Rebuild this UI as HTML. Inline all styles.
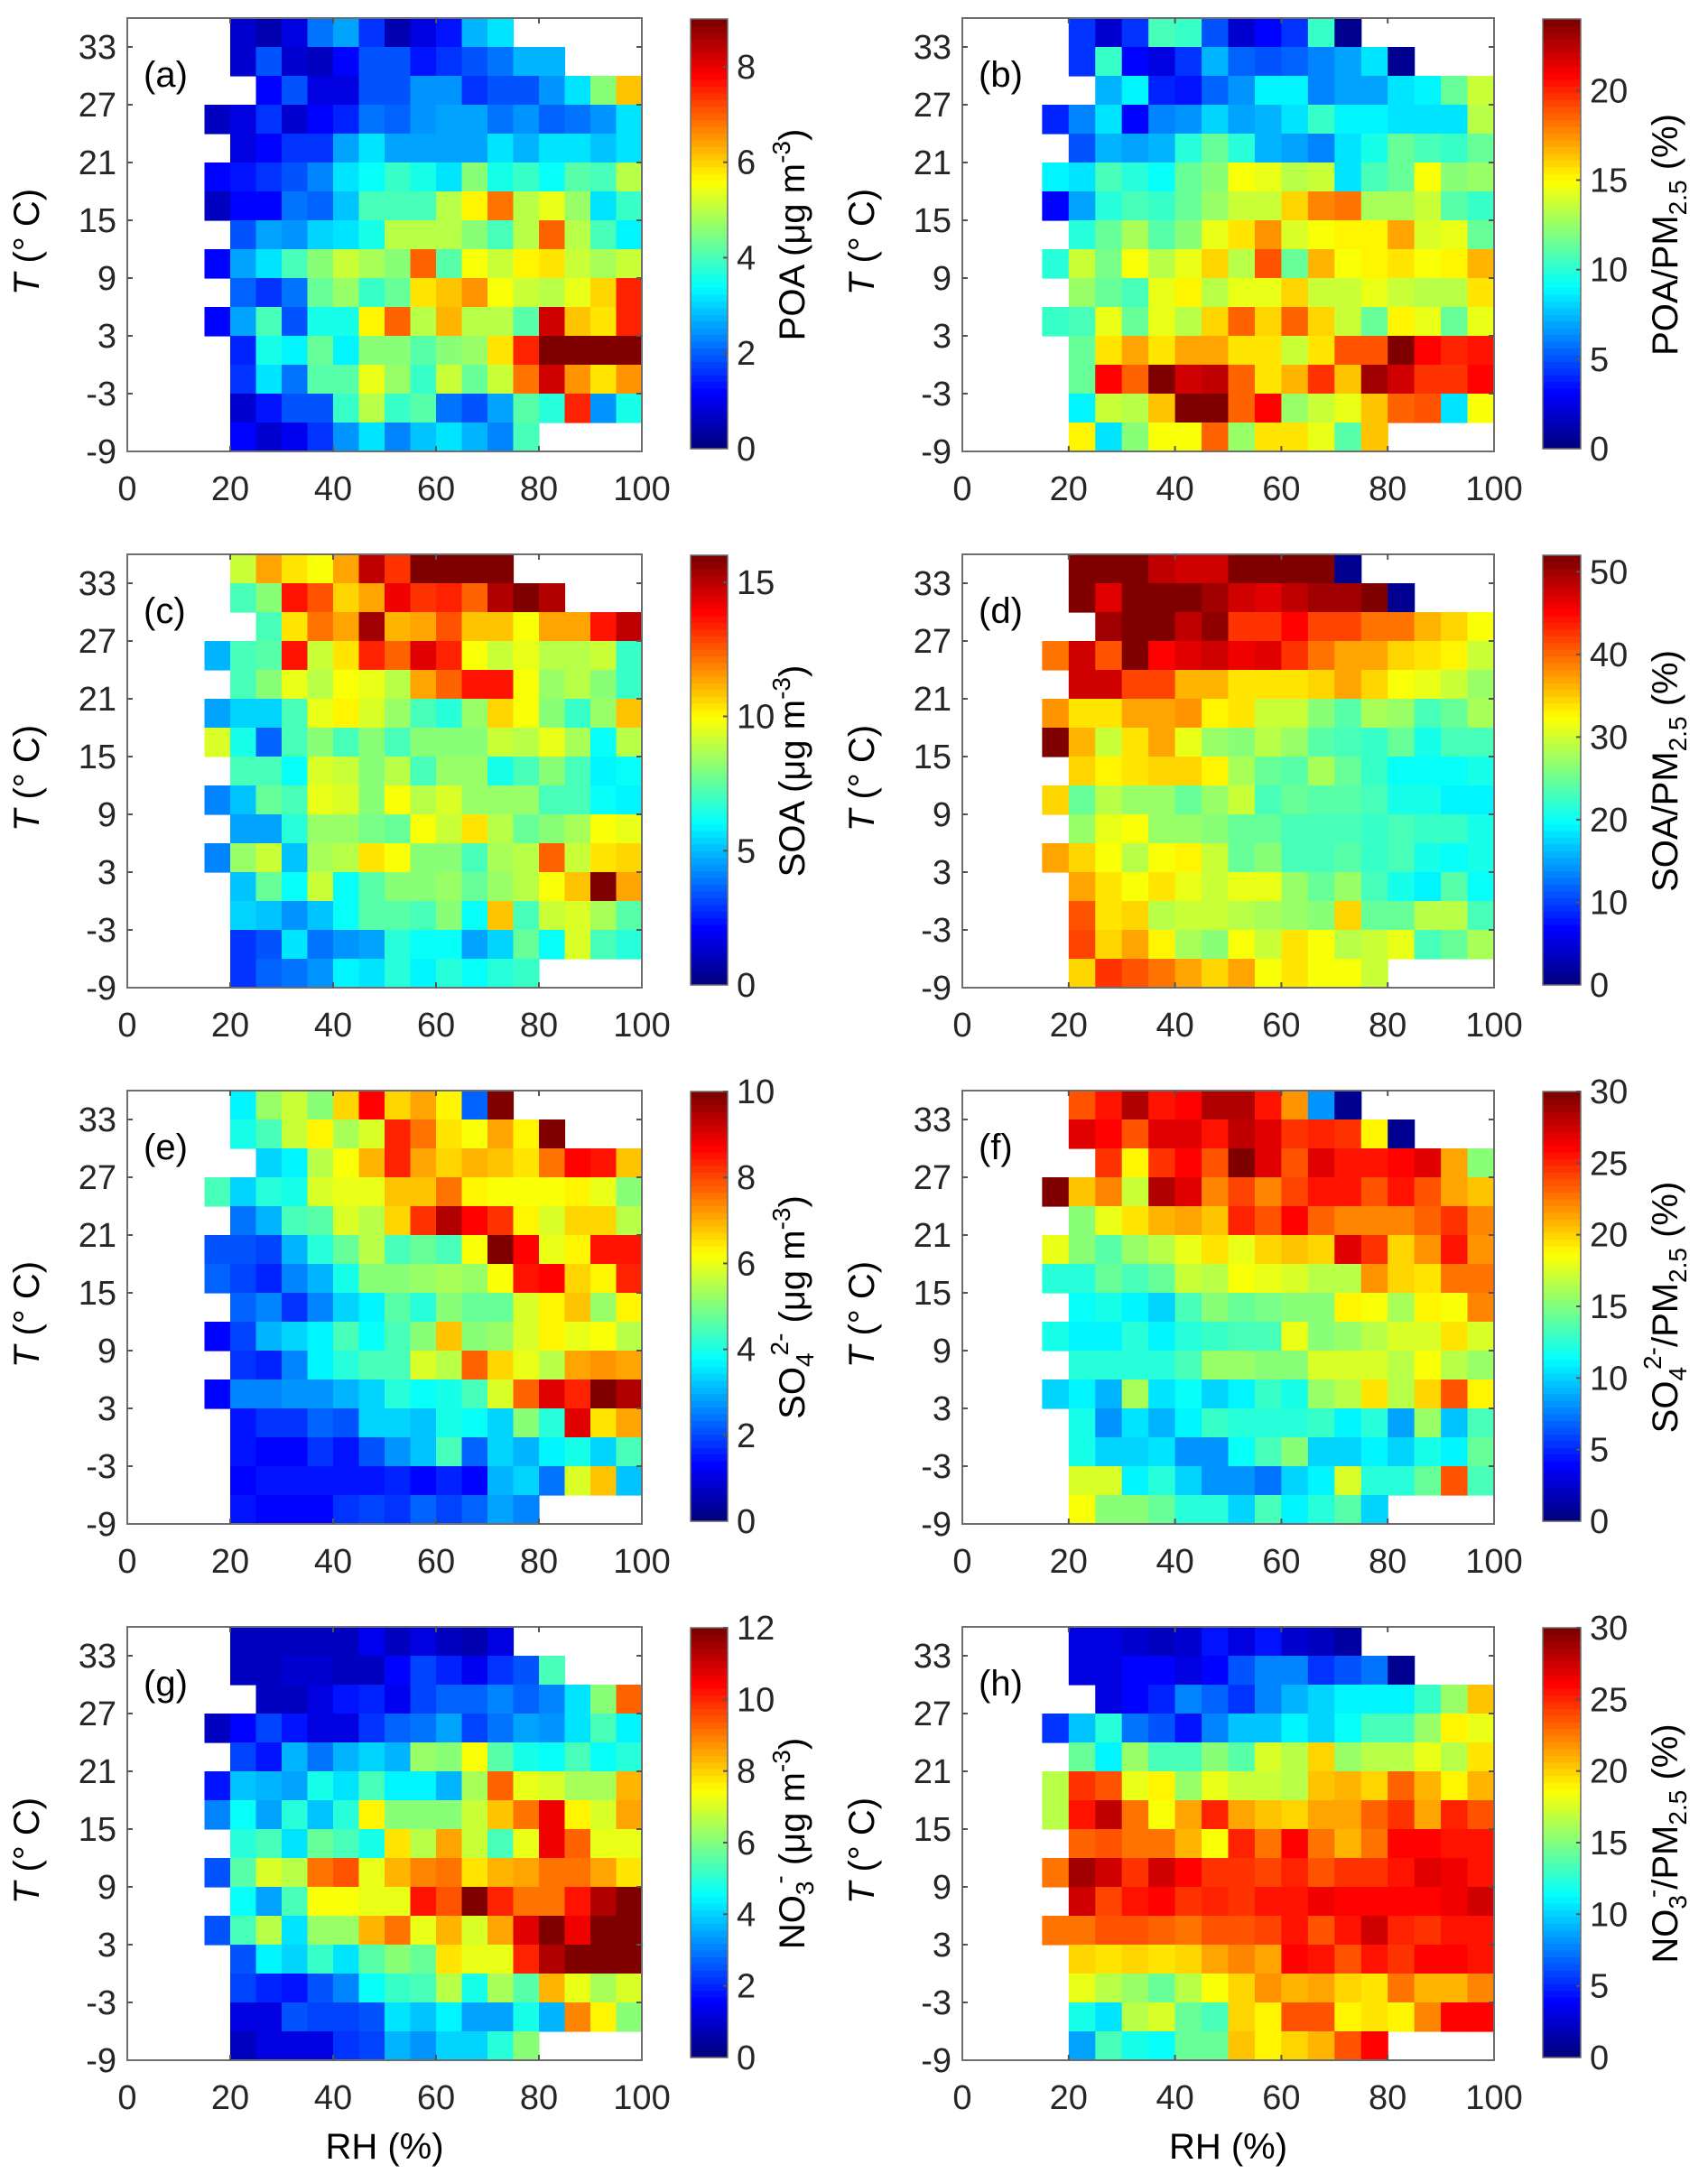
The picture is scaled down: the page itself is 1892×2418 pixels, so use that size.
<!DOCTYPE html>
<html><head><meta charset="utf-8"><title>RH-T heatmaps</title>
<style>
html,body{margin:0;padding:0;background:#fff;}
svg{display:block;font-family:"Liberation Sans",Arial,sans-serif;}
</style></head>
<body>
<svg id="fig" width="1892" height="2418" viewBox="0 0 1892 2418" xmlns="http://www.w3.org/2000/svg"></svg>
<script>
const n = null;
// RH bin starts (%) and T bin starts (°C, top row first)
const rhBins = [15,20,25,30,35,40,45,50,55,60,65,70,75,80,85,90,95];
const tBins = [33,30,27,24,21,18,15,12,9,6,3,0,-3,-6,-9];
const xTicks = [0,20,40,60,80,100];
const yTicks = [33,27,21,15,9,3,-3,-9];

const poaData = [
[n,0.7,0.4,0.9,2.2,2.5,1.6,0.4,0.9,1.3,2.7,3.1,n,n,n,n,n],
[n,0.7,1.8,0.7,0.5,1.1,1.8,1.8,1.3,1.5,1.8,2.2,2.7,2.7,n,n,n],
[n,n,1.2,1.8,0.9,0.9,1.8,1.8,2.4,2.4,1.5,1.8,1.8,2.4,3.1,4.5,6.1],
[0.5,0.9,1.6,0.7,1.1,1.4,2.2,2.0,2.4,2.6,2.6,2.2,2.4,2.0,2.1,2.4,3.1],
[n,0.9,1.1,1.6,1.6,2.6,3.1,2.6,2.6,2.5,2.6,3.1,2.7,3.1,3.1,2.8,3.1],
[1.1,1.3,1.6,1.8,2.3,3.1,3.4,3.8,3.6,3.1,4.5,3.6,3.8,3.4,4.2,4.0,5.0],
[0.5,1.1,1.1,2.2,2.0,2.8,4.0,4.0,4.0,5.0,5.7,6.8,5.0,5.4,4.7,3.1,3.8],
[n,1.8,2.6,2.4,3.0,3.1,3.6,5.0,5.0,5.0,4.5,4.0,5.0,7.0,5.0,4.0,3.3],
[1.2,2.6,3.1,4.0,4.5,5.2,4.8,4.5,7.0,4.1,5.6,5.1,5.7,5.8,5.1,4.9,5.2],
[n,2.0,1.6,2.2,4.3,4.7,3.8,4.3,5.9,6.2,6.5,5.5,5.1,5.0,5.4,6.0,7.6],
[1.2,2.6,4.0,1.8,3.6,3.6,5.7,7.0,5.0,6.3,5.0,5.0,4.2,8.3,6.1,5.9,7.6],
[n,1.4,3.6,3.3,4.3,3.3,4.5,4.5,4.2,4.5,4.7,5.8,7.6,9,9,9,9],
[n,1.5,3.1,2.2,4.1,4.2,5.4,4.7,3.8,5.2,4.3,5.1,6.8,8.3,6.5,5.9,6.6],
[n,0.7,1.3,1.8,1.8,3.8,5.0,3.8,4.1,2.2,1.9,2.5,4.1,3.7,7.5,2.4,3.6],
[n,1.2,0.7,1.0,1.6,2.4,3.1,2.3,2.8,3.1,2.7,2.3,4.0,n,n,n,n]];

const poaFracData = [
[n,4.3,1.9,4.1,10.6,10.1,4.8,1.9,2.9,4.3,10.1,0.5,n,n,n,n,n],
[n,4.3,10.3,3.1,2.4,4.3,7.2,5.3,4.8,5.3,6.2,6.7,8.2,0.5,n,n,n],
[n,n,7.2,8.9,3.8,3.4,5.5,6.5,8.9,8.9,6.2,6.7,7.0,8.2,8.9,11.5,13.9],
[3.8,6.0,8.2,3.1,6.0,6.5,7.9,7.0,7.4,8.2,10.1,8.9,8.9,8.2,8.2,8.4,13.2],
[n,4.8,7.2,6.7,7.2,9.8,11.5,9.8,7.2,6.7,6.0,8.4,9.6,11.3,10.6,10.1,11.5],
[8.6,8.2,10.6,9.8,9.1,11.5,12,14.9,14.4,13.4,13.9,8.2,10.6,11.3,14.9,12,12.5],
[2.9,6.7,9.8,10.8,10.3,11.3,12.7,13.9,13.7,16.1,17.8,18.2,13,13,13.9,11,10.1],
[n,9.8,11.5,13,11,12,14.6,15.8,17.5,14.2,14.9,15.4,15.4,17.3,14.2,14.4,11.3],
[9.8,13.7,11.8,14.9,13.4,14.4,16.1,13.4,19,11.5,16.6,14.9,15.4,15.8,14.9,15.1,16.6],
[n,12.5,11.3,10.8,14.4,15.1,13.2,14.4,14.6,16.1,13.7,13.9,14.4,13.7,13.4,13.4,15.8],
[10.1,10.8,14.4,11.3,14.4,13.2,16.1,18.5,16.1,18.5,16.1,13.7,11.3,15.1,14.4,11.5,14.4],
[n,11.3,15.8,17.3,15.8,17.3,17.3,15.8,15.8,13.9,15.8,19.2,19,24,21.1,20.2,20.6],
[n,11.5,21.1,18.7,24,22.1,22.3,18.7,15.6,16.8,19.9,16.3,23.3,22.1,19.9,19.9,21.1],
[n,8.9,13.9,13.4,16.3,24,24,18.7,21.1,12.5,13.7,14.4,16.3,18.7,19.2,8.2,14.9],
[n,15.1,8.4,12,14.9,14.9,18.7,12.5,15.6,15.8,14.4,11,16.3,n,n,n,n]];

const soaData = [
[n,9.1,11.5,10.4,9.9,11.5,14.9,13.1,16,16,16,16,n,n,n,n,n],
[n,7.2,8,13.6,12.8,10.6,11.5,14.1,13.1,13.4,12.5,15.2,16,15.2,n,n,n],
[n,n,7.2,10.4,12.3,11.5,15.5,11.2,11.5,12.8,11,11,9.9,11.5,11.5,13.6,14.9],
[4.8,7.2,7.4,13.8,9.1,10.4,13.4,12.5,14.4,13.4,9.9,9.1,9.6,8.8,9,9.1,6.9],
[n,7.2,8,9.6,9,9.9,9.6,9,11.5,12.5,13.6,13.8,9.9,8.5,8.8,8,6.9],
[4.5,5.4,5.4,7.2,9.6,10.1,9.3,8.5,7,6.7,8.5,10.6,9.9,8,6.9,8.5,10.9],
[9.3,6.4,3.5,7,8,7.2,8,7,8,8,8,9.1,8.8,9.6,8.6,6.2,8.8],
[n,7,7,6.1,9.3,9.1,8,9,7.2,8.3,8.3,6.4,7,8,7,5.9,6.2],
[4,5.1,7.7,7.2,9.6,9.4,8,9.9,9,9.4,8.3,8.3,8.5,7.2,7,6.1,5.9],
[n,4.5,4.6,6.7,8.3,8.3,7.8,7.7,9.9,9.1,10.4,9,7.5,8,8.6,9.9,9.6],
[4,8.5,9.1,5.1,8.6,9,10.4,9.9,8,8,7.2,8.6,8.8,12.5,9.1,10.4,10.7],
[n,5.1,7.5,6.1,9.1,6.1,7.4,8.2,8.2,8.5,7.5,8.3,9,9.9,10.9,16,11.5],
[n,5.4,5,4.2,5,6.1,7.4,7.4,7.2,8,6.1,10.9,7.2,9.1,9.4,8.6,7.4],
[n,2.9,3.2,5.6,3.8,4.2,4.6,6.6,6.1,6.1,4.6,5.4,7.5,6.1,9.4,7.2,6.7],
[n,2.7,3.5,3.8,4.2,5.9,5.6,6.7,5.8,6.6,6.1,6.6,6.9,n,n,n,n]];

const soaFracData = [
[n,52,52,52,49,48,48,52,52,52,52,1,n,n,n,n,n],
[n,52,47,52,52,52,50,48,47,49,50,50,52,1,n,n,n],
[n,n,50,52,52,49,51,43,43,45,42,42,40,40,36,35,32],
[40,48,41,52,45,47,48,46,47,43,40,37,37,35,34,33,30],
[n,48,48,42,42,36,36,34,34,34,35,37,35,32,31,30,27],
[38,34,34,37,37,38,33,34,30,30,26,24,28,27,23,25,28],
[52,36,30,34,37,31,27,26,29,27,24,23,22,25,21,23,23],
[n,35,33,34,35,35,33,28,25,24,28,25,22,20,20,20,21],
[35,25,29,27,27,25,27,30,23,25,24,24,23,21,21,19,19],
[n,27,31,32,27,27,26,25,25,23,23,23,22,23,22,22,21],
[37,35,32,29,32,33,30,25,26,23,23,24,22,23,21,20,21],
[n,37,34,32,34,31,30,31,31,27,25,27,23,21,19,24,20],
[n,41,34,35,29,30,30,29,28,27,26,35,25,25,29,29,23],
[n,42,35,37,33,28,26,32,30,34,32,29,30,31,23,25,28],
[n,35,43,41,40,37,35,37,32,34,32,32,30,n,n,n,n]];

const so4Data = [
[n,3.7,5.2,5.7,5,6.6,8.7,6.6,7.2,6.3,2.2,10,n,n,n,n,n],
[n,4,4.4,5.7,6.3,5.4,5.8,8.4,7.6,6.5,6.2,7.2,6.4,10,n,n,n],
[n,n,3.4,3.7,5.5,6.2,7,8.4,7.2,6.6,7,6.8,6.5,7.6,8.8,8.6,6.8],
[4.4,3.3,4.2,4,5.8,6,6.1,6.8,6.9,7.6,6.4,6.2,6.2,6.2,6.3,6,5],
[n,2.4,3,4.4,4.6,5.8,5.5,6.7,8.2,9.5,8.8,8.2,6.4,5.8,6.7,6.6,5.5],
[2,2,1.9,3,4.2,4.7,5.5,4.4,4.8,4.5,6.2,10,8.8,6,6.4,8.5,8.6],
[2.2,1.9,1.6,2.6,3,4,5,5,5.2,5.4,5.3,6.2,8.5,8.8,6.7,6.3,8.4],
[n,2.2,2.5,1.8,2.5,3.3,3.7,4.6,4.2,5,4.7,4.7,5.9,6.4,6.8,5.2,6.4],
[1.3,1.9,3,3.3,3.7,4.5,3.8,4.4,5,6.8,5,5.3,5.8,6.3,6.1,6.2,5.6],
[n,1.8,1.6,2.5,3.7,4.1,4.4,4.5,5.8,5.6,7.7,6.6,6,5.6,7.1,7.3,7.1],
[1.3,2.6,2.6,2.7,2.7,3,3.4,4.2,3.8,4,4.5,5.8,7.7,9,8.4,10,9.5],
[n,1.5,1.8,1.7,2.3,2,3.3,3.3,3.2,4,3.8,3.4,5,4.2,9,6.5,7.2],
[n,1.5,1.3,1.2,1.7,1.5,2,2.7,3.1,4.4,2.2,3.3,3,3.7,4,3.3,4.4],
[n,1.2,1.5,1.5,1.5,1.4,1.4,1.6,1.3,1.6,1.3,3,3.3,2.4,5.8,6.8,3.2],
[n,1.5,1.2,1.3,1.3,1.8,1.9,1.8,2.3,1.9,2.2,2.8,2.5,n,n,n,n]];

const so4FracData = [
[n,24,25.8,28.8,25.8,26.4,28.8,28.8,25.5,21.9,8.1,0.6,n,n,n,n,n],
[n,27,26.4,24,27,27.3,25.5,28.2,27.3,24.6,25.2,24.6,18.9,0.6,n,n,n],
[n,n,24.9,18.9,24.9,26.4,23.7,30,27.3,23.7,27.3,25.5,25.8,26.4,27.3,21.6,15],
[30,20.7,22.2,17.1,28.8,27.3,22.2,24.3,22.2,24.3,25.5,25.5,24,25.5,24,21.6,20.7],
[n,15,18,19.5,21,21.6,20.7,25.2,24,26.1,23.4,22.2,22.5,22.5,23.4,24.6,22.5],
[18,15,13.8,15.9,16.8,18,19.5,18,20.1,20.4,19.8,27.3,24.9,20.1,21.9,25.5,21.9],
[12.3,12.3,14.4,13.2,14.4,17.1,16.5,18.6,18,17.7,16.5,16.5,21.9,20.1,19.5,22.8,22.8],
[n,11.4,12,11.1,9.9,13.2,15,14.1,14.7,15.3,15.3,19.2,18.6,16.2,19.2,18.6,22.5],
[12,11.1,11.1,12.3,10.8,12.6,12.9,13.5,13.5,18,15,15.6,16.5,17.4,17.4,19.5,17.4],
[n,12.6,12.6,12.3,12.3,13.2,15.6,15.6,15,15,17.4,17.4,17.4,16.8,18.6,16.5,15.6],
[10.2,10.8,9,16.2,10.5,11.4,9.9,11.1,12.9,12,15.6,16.5,19.5,16.8,19.8,24,19.2],
[n,11.7,8.1,10.5,9,11.1,12.9,12.3,12.3,12.3,12.9,11.1,12.6,8.7,15.6,9.6,13.2],
[n,12,9.9,9.9,10.5,8.1,8.1,11.4,13.2,15,9.9,10.2,10.8,10.2,11.7,11.1,14.4],
[n,17.4,17.4,10.8,12.6,10.2,8.1,8.1,7.2,10.2,10.8,17.4,12.6,12.6,14.4,24,13.2],
[n,18.6,15,15,14.4,12.6,12.6,9.9,13.2,11.1,12.6,13.8,10.2,n,n,n,n]];

const no3Data = [
[n,0.7,0.8,0.8,0.7,0.8,1.4,0.8,1.2,0.8,0.5,1.1,n,n,n,n,n],
[n,0.7,0.7,1,1,0.7,0.8,1.6,2.2,1.9,1.4,2,2.4,5.3,n,n,n],
[n,n,0.7,0.8,1.1,1.7,1.9,1.4,2.2,2.6,2.6,3,2.6,3,4.1,6,9.4],
[0.7,1.6,2.3,1.7,1.2,1.1,2,2.6,2.9,3.5,2.3,2.8,3.5,3.2,4.1,5.3,4.4],
[n,2.3,1.8,3.6,2.8,3.6,4,3.7,6.2,6,7.4,5.6,4.8,4.6,5.3,4.6,5],
[1.8,3.8,3.7,3.4,4.8,4.1,5.3,4.4,4.3,3.7,6.4,9.4,7.2,7,6.5,6.5,8.3],
[3,4.6,3.4,4.9,3.8,5,7.6,6,6,6,6.8,8.2,9.2,10.6,7.6,7,8.6],
[n,5,5.4,4.1,5.8,5.4,4.8,7.9,6.6,8.6,6.8,5.3,7.2,10.6,9.4,7.2,7.2],
[2.4,5.5,7,6.6,9.2,9.6,7.2,8.4,8.9,9.1,7.9,8.3,8.6,9.1,9.2,8.6,7.9],
[n,4.6,3.5,5.3,7.4,7.4,7.2,7.2,10.2,9.6,12,10.1,9.1,9.1,10.2,11.5,12],
[2.4,5.4,6.7,4.2,6.2,6.2,8.4,9.1,7.2,8.4,7,8.6,10.8,12,10.6,12,12],
[n,2.4,4.4,4,5.2,4.1,5.6,6,5.8,7.9,7.2,7.2,10.1,11.5,12,12,12],
[n,2.2,1.9,1.8,2.4,3.1,4.6,5.2,5.4,6.7,4.8,6.4,5.6,8.4,7.2,6.5,7],
[n,1.1,1.1,2.4,2.2,2.2,2.4,4.1,3.8,4.4,3.5,3.4,4.8,3.7,8.9,7.6,6],
[n,0.8,1.2,1.2,1.2,2,2.3,3.7,3.2,4,4,4.9,6,n,n,n,n]];

const no3FracData = [
[n,2.7,3,2.4,2.1,2.4,4.2,3,4.2,2.4,1.8,0.9,n,n,n,n,n],
[n,3,3,3.6,3.9,3,3.6,6,7.5,7.5,5.4,6,7.2,0.6,n,n,n],
[n,n,3,3.6,4.8,7.5,6.6,5.4,7.5,9,9.9,11.1,11.1,10.8,12.9,15.6,20.4],
[5.1,9.6,12.6,7.2,6.3,4.2,7.5,9.6,9.6,11.1,10.2,11.4,13.5,13.5,15.6,18.9,18],
[n,14.4,11.1,15.9,13.2,13.5,15,13.8,17.4,16.5,19.8,15.6,16.5,16.5,18,16.8,19.5],
[16.5,24.9,24,18,19.2,15.9,18,17.1,17.1,16.8,20.4,21,20.1,23.4,21,19.2,21],
[16.5,25.8,27.9,22.8,18.6,21.3,25.2,21.3,20.7,20.1,21.3,21.6,23.4,24.6,21.6,25.2,24],
[n,23.4,24,22.8,22.8,21,18.6,25.2,22.8,26.1,22.8,21,22.8,26.1,26.4,25.8,25.5],
[22.8,29.1,27.6,24.9,27.6,26.4,24.6,24.6,24.3,25.2,24,24.6,24.6,25.8,27,26.7,25.5],
[n,27.6,24.3,25.5,26.4,24.6,25.2,24.6,25.8,25.5,26.7,26.1,26.4,26.4,26.1,26.7,27.6],
[22.8,22.8,23.7,23.7,23.1,22.8,24,24,24.3,25.5,24,25.5,27.6,25.2,24.6,25.8,25.5],
[n,20.1,19.5,20.1,19.5,20.1,21.6,22.2,21.6,26.4,25.5,24,25.8,24.9,26.4,26.4,25.5],
[n,18,16.5,15.6,14.4,16.5,18.6,20.1,21.9,21,21.3,20.1,19.5,22.8,21,21,22.2],
[n,12,10.5,16.8,17.4,14.4,13.5,20.1,18.9,24,24,19.2,19.5,18.9,22.5,26.4,26.4],
[n,8.7,13.2,12,11.4,14.4,14.4,20.4,18.9,20.1,21,24,26.4,n,n,n,n]];

// colorbar limits and tick labels
const cbMax = [9,24,16,52,10,30,12,30];
const cbTicksA = [0,2,4,6,8];
const cbTicksB = [0,5,10,15,20];
const cbTicksC = [0,5,10,15];
const cbTicksD = [0,10,20,30,40,50];
const cbTicksE = [0,2,4,6,8,10];
const cbTicksF = [0,5,10,15,20,25,30];
const cbTicksG = [0,2,4,6,8,10,12];
const cbTicksH = [0,5,10,15,20,25,30];
const panelLetters = ['(a)','(b)','(c)','(d)','(e)','(f)','(g)','(h)'];

const panels = [
 {data:poaData, ticks:cbTicksA, name:'poa', label:[['POA (μg m',0],['-3',-1],[')',0]]},
 {data:poaFracData, ticks:cbTicksB, name:'poa-fraction', label:[['POA/PM',0],['2.5',1],[' (%)',0]]},
 {data:soaData, ticks:cbTicksC, name:'soa', label:[['SOA (μg m',0],['-3',-1],[')',0]]},
 {data:soaFracData, ticks:cbTicksD, name:'soa-fraction', label:[['SOA/PM',0],['2.5',1],[' (%)',0]]},
 {data:so4Data, ticks:cbTicksE, name:'sulfate', label:[['SO',0],['4',1],['2-',-2],[' (μg m',0],['-3',-1],[')',0]]},
 {data:so4FracData, ticks:cbTicksF, name:'sulfate-fraction', label:[['SO',0],['4',1],['2-',-2],['/PM',0],['2.5',1],[' (%)',0]]},
 {data:no3Data, ticks:cbTicksG, name:'nitrate', label:[['NO',0],['3',1],['-',-2],[' (μg m',0],['-3',-1],[')',0]]},
 {data:no3FracData, ticks:cbTicksH, name:'nitrate-fraction', label:[['NO',0],['3',1],['-',-2],['/PM',0],['2.5',1],[' (%)',0]]}
];

const NS = 'http://www.w3.org/2000/svg';
const svg = document.getElementById('fig');
const colX = [141,1066], colW = [570,589], cbX = [765,1709], cbW = [41,42], cbLabX = [891,1858];
const rowY = [20,614,1208,1802], plotH = 480;

function jet(f){
  f = Math.max(0,Math.min(1,f));
  f = Math.round(f*63)/63;
  const c = v => Math.round(255*Math.max(0,Math.min(1,v)));
  return `rgb(${c(1.5-Math.abs(4*f-3))},${c(1.5-Math.abs(4*f-2))},${c(1.5-Math.abs(4*f-1))})`;
}
function el(tag, attrs, parent){
  const e = document.createElementNS(NS, tag);
  for (const k in attrs) e.setAttribute(k, attrs[k]);
  (parent||svg).appendChild(e);
  return e;
}

panels.forEach((p, i) => {
  const col = i % 2, row = Math.floor(i/2);
  const px = colX[col], pw = colW[col], py = rowY[row];
  const xs = v => px + v/100*pw;
  const ys = t => py + (36 - t)/45*plotH;
  const g = el('g', {});
  
  

  p.data.forEach((rowVals, r) => {
    rowVals.forEach((v, c) => {
      if (v === null) return;
      const x0 = xs(rhBins[c]), x1 = xs(rhBins[c]+5);
      const y0 = ys(tBins[r]+3), y1 = ys(tBins[r]);
      const rc = el('rect', {x:x0, y:y0, width:x1-x0+0.6, height:y1-y0+0.6, fill:jet(v/cbMax[i])}, g);
      
      
    });
  });

  const box = el('rect', {x:px, y:py, width:pw, height:plotH, fill:'none', stroke:'#6e6e6e', 'stroke-width':2}, g);
  
  

  xTicks.forEach(t => {
    const x = xs(t);
    if (t > 0 && t < 100) {
      el('line', {x1:x, x2:x, y1:py+plotH, y2:py+plotH-6, stroke:'#555', 'stroke-width':2}, g);
      el('line', {x1:x, x2:x, y1:py, y2:py+6, stroke:'#555', 'stroke-width':2}, g);
    }
    const tl = el('text', {x:x, y:py+plotH+54, 'font-size':38, 'text-anchor':'middle', fill:'#262626'}, g);
    tl.textContent = t;
    
    
  });
  yTicks.forEach(t => {
    const y = ys(t);
    if (t > -9) {
      el('line', {x1:px, x2:px+6, y1:y, y2:y, stroke:'#555', 'stroke-width':2}, g);
      el('line', {x1:px+pw, x2:px+pw-6, y1:y, y2:y, stroke:'#555', 'stroke-width':2}, g);
    }
    const tl = el('text', {x:px-12, y:y+13, 'font-size':38, 'text-anchor':'end', fill:'#262626'}, g);
    tl.textContent = t;
    
    
  });

  const letter = el('text', {x:px+18, y:py+76, 'font-size':40, fill:'#000'}, g);
  letter.textContent = panelLetters[i];
  
  

  const yl = el('text', {x:0, y:0, 'font-size':40, 'text-anchor':'middle', fill:'#000',
    transform:`translate(${px-98},${py+ (plotH/2) + 8}) rotate(-90)`}, g);
  
  
  const t1 = el('tspan', {'font-style':'italic'}, yl); t1.textContent = 'T';
  const t2 = el('tspan', {}, yl); t2.textContent = ' (°  C)';

  const cx = cbX[col], cw = cbW[col], cTop = py + 1, cH = plotH - 4;
  const cb = el('g', {}, g);
  
  
  for (let k = 0; k < 64; k++) {
    el('rect', {x:cx, y:cTop + cH - (k+1)*cH/64, width:cw, height:cH/64+0.6, fill:jet(k/63)}, cb);
  }
  el('rect', {x:cx, y:cTop, width:cw, height:cH, fill:'none', stroke:'#6e6e6e', 'stroke-width':1.5}, cb);
  p.ticks.forEach(t => {
    const y = cTop + cH - t/cbMax[i]*cH;
    if (t > 0) el('line', {x1:cx+cw, x2:cx+cw-5, y1:y, y2:y, stroke:'#555', 'stroke-width':2}, cb);
    const tl = el('text', {x:cx+cw+10, y:y+13, 'font-size':38, fill:'#262626'}, cb);
    tl.textContent = t;
    
    
  });
  const cl = el('text', {x:0, y:0, 'font-size':40, 'text-anchor':'middle', fill:'#000',
    transform:`translate(${cbLabX[col]},${py+plotH/2}) rotate(-90)`}, g);
  
  
  let cur = 0;
  p.label.forEach(([txt, kind]) => {
    const ts = el('tspan', {}, cl);
    ts.textContent = txt;
    let target = kind === 1 ? 10 : (kind === -1 ? -16 : (kind === -2 ? -18 : 0));
    if (kind === -2) ts.setAttribute('dx', -3);
    if (kind !== 0) ts.setAttribute('font-size', 28);
    ts.setAttribute('dy', target - cur);
    cur = target;
  });

  if (row === 3) {
    const xl = el('text', {x:px+pw/2, y:2391, 'font-size':40, 'text-anchor':'middle', fill:'#000'}, g);
    xl.textContent = 'RH (%)';
    
    
  }
});
</script>
</body></html>
